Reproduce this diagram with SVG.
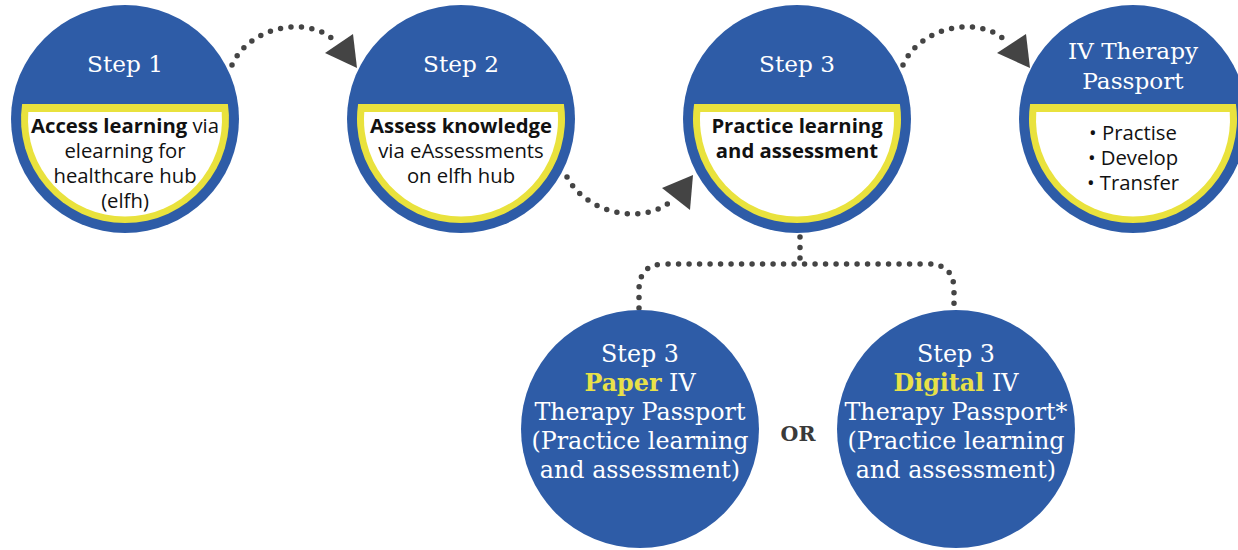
<svg xmlns="http://www.w3.org/2000/svg" width="1238" height="550" viewBox="0 0 1238 550">
<style>
.blue{fill:#2e5ca7}
.yel{fill:#e9e23d}
.wht{fill:#ffffff}
.ser{font-family:"DejaVu Serif","Liberation Serif",serif;fill:#ffffff;text-anchor:middle}
.top{font-size:23.2px}
.bot{font-size:23.8px}
.sans{font-family:"Open Sans","Noto Sans","Liberation Sans",sans-serif;fill:#111111;text-anchor:middle;font-size:20.3px}
.b{font-weight:bold}
.hl{fill:#e8e148;font-weight:bold}
.dot{fill:none;stroke:#444444;stroke-width:5.5;stroke-linecap:round;stroke-dasharray:0 10.5}
.head{fill:#444444}
</style>
<rect width="1238" height="550" fill="#ffffff"/>
<g id="connectors">
<path class="dot" d="M232,65 C250,25 310,15 336,42"/>
<polygon class="head" points="325,53 353,34 357,68"/>
<path class="dot" d="M567,177 C585,212 640,226 670,202"/>
<polygon class="head" points="662,188 693,175 690,210"/>
<path class="dot" d="M903,65 C921,25 981,15 1007,42"/>
<polygon class="head" points="997,53 1026,34 1030,68"/>
<path class="dot" d="M800,237 L800,264"/>
<path class="dot" d="M639,308 L639,290 Q639,264 665,264 L928,264 Q954,264 954,290 L954,308"/>
</g>
<g id="step1">
<circle class="blue" cx="125" cy="119" r="114"/>
<path class="yel" d="M22.1,104 A104,104 0 1 0 227.9,104 Z"/>
<path class="wht" d="M28.3,112 A97,97 0 1 0 221.7,112 Z"/>
<text class="ser top" x="125" y="72">Step 1</text>
<text class="sans" x="125" y="133"><tspan class="b">Access learning</tspan> via</text>
<text class="sans" x="125" y="158">elearning for</text>
<text class="sans" x="125" y="183">healthcare hub</text>
<text class="sans" x="125" y="208">(elfh)</text>
</g>
<g id="step2">
<circle class="blue" cx="461" cy="119" r="114"/>
<path class="yel" d="M358.1,104 A104,104 0 1 0 563.9,104 Z"/>
<path class="wht" d="M364.3,112 A97,97 0 1 0 557.7,112 Z"/>
<text class="ser top" x="461" y="72">Step 2</text>
<text class="sans b" x="461" y="133">Assess knowledge</text>
<text class="sans" x="461" y="158">via eAssessments</text>
<text class="sans" x="461" y="183">on elfh hub</text>
</g>
<g id="step3">
<circle class="blue" cx="797" cy="119" r="114"/>
<path class="yel" d="M694.1,104 A104,104 0 1 0 899.9,104 Z"/>
<path class="wht" d="M700.3,112 A97,97 0 1 0 893.7,112 Z"/>
<text class="ser top" x="797" y="72">Step 3</text>
<text class="sans b" x="797" y="133">Practice learning</text>
<text class="sans b" x="797" y="158">and assessment</text>
</g>
<g id="passport">
<circle class="blue" cx="1133" cy="119" r="114"/>
<path class="yel" d="M1030.1,104 A104,104 0 1 0 1235.9,104 Z"/>
<path class="wht" d="M1036.3,112 A97,97 0 1 0 1229.7,112 Z"/>
<text class="ser top" x="1133" y="59">IV Therapy</text>
<text class="ser top" x="1133" y="89">Passport</text>
<text class="sans" x="1133" y="140">• Practise</text>
<text class="sans" x="1133" y="165">• Develop</text>
<text class="sans" x="1133" y="190">• Transfer</text>
</g>
<g id="paper">
<circle class="blue" cx="640" cy="429" r="119"/>
<text class="ser bot" x="640" y="362">Step 3</text>
<text class="ser bot" x="640" y="391"><tspan class="hl">Paper</tspan> IV</text>
<text class="ser bot" x="640" y="420">Therapy Passport</text>
<text class="ser bot" x="640" y="449">(Practice learning</text>
<text class="ser bot" x="640" y="478">and assessment)</text>
</g>
<g id="or">
<text x="798" y="441" font-family="DejaVu Serif, Liberation Serif, serif" font-size="20.5" font-weight="bold" fill="#3a3a3a" text-anchor="middle">OR</text>
</g>
<g id="digital">
<circle class="blue" cx="956" cy="429" r="119"/>
<text class="ser bot" x="956" y="362">Step 3</text>
<text class="ser bot" x="956" y="391"><tspan class="hl">Digital</tspan> IV</text>
<text class="ser bot" x="956" y="420">Therapy Passport*</text>
<text class="ser bot" x="956" y="449">(Practice learning</text>
<text class="ser bot" x="956" y="478">and assessment)</text>
</g>
</svg>
